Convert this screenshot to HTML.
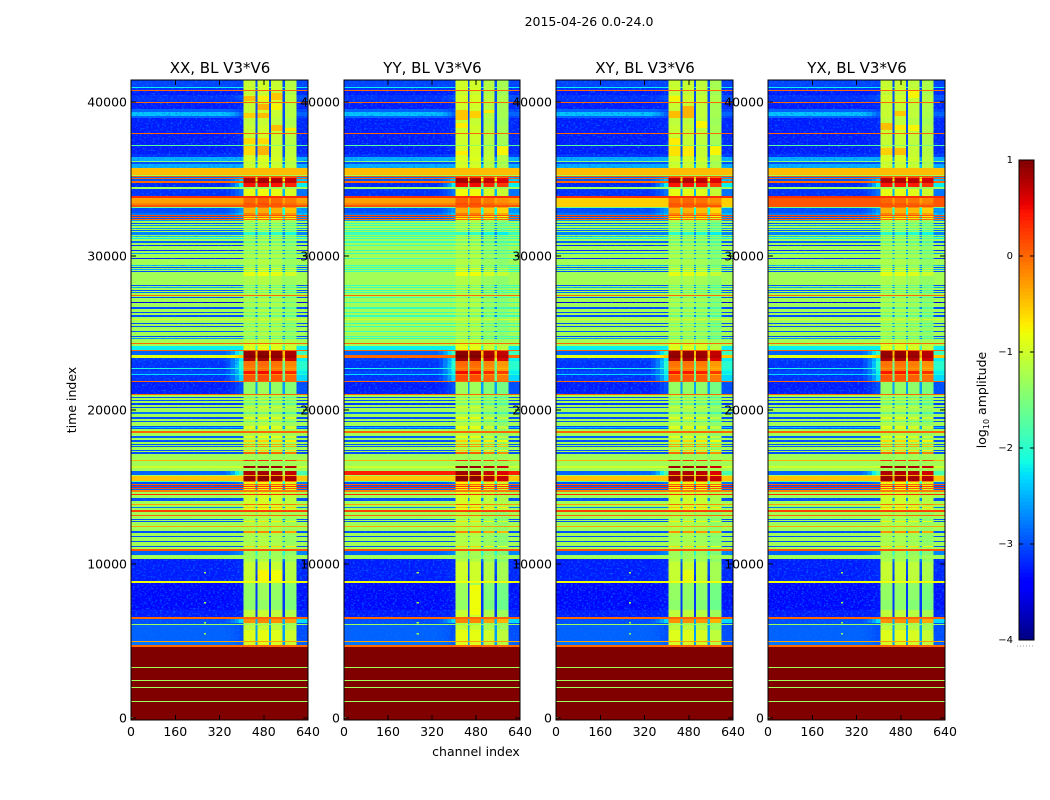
<!DOCTYPE html>
<html lang="en">
<head>
<meta charset="utf-8">
<title>2015-04-26 0.0-24.0 waterfall</title>
<style>
html,body{margin:0;padding:0;background:#fff;width:1050px;height:800px;overflow:hidden}
svg{display:block}
text{font-family:"DejaVu Sans","Liberation Sans",sans-serif;fill:#000}
</style>
</head>
<body>
<svg id="figure" xmlns="http://www.w3.org/2000/svg" width="1050" height="800" viewBox="0 0 1050 800">
  <defs>
    <filter id="speckle-a" filterUnits="userSpaceOnUse" x="0" y="0" width="1050" height="800" color-interpolation-filters="sRGB">
      <feTurbulence type="fractalNoise" baseFrequency="0.45 0.6" numOctaves="2" seed="3" result="n"/>
      <feColorMatrix in="n" type="matrix" values="0 0 0 0 0  0 0 0 0 .45  0 0 0 0 1  2.6 0 0 0 -1.3" result="c"/>
      <feComposite in="c" in2="SourceAlpha" operator="in"/>
    </filter>
  </defs>
  <text x="589" y="26" font-size="12.5" text-anchor="middle">2015-04-26 0.0-24.0</text>
  <text x="0" y="0" font-size="12.5" text-anchor="middle" transform="translate(76,400) rotate(-90)">time index</text>
  <text x="476" y="756" font-size="12.5" text-anchor="middle">channel index</text>
  <text x="0" y="0" font-size="12.5" text-anchor="middle" transform="translate(986,400) rotate(-90)">log<tspan font-size="8" dy="3">10</tspan><tspan dy="-3"> amplitude</tspan></text>
  <g id="panels"></g>
  <g id="colorbar"></g>
</svg>
<script>
// ---- chart data ----
const panelTitles = ['XX, BL V3*V6', 'YY, BL V3*V6', 'XY, BL V3*V6', 'YX, BL V3*V6'];
const xTicks = [0, 160, 320, 480, 640];
const yTicks = [0, 10000, 20000, 30000, 40000];
const colorbarTicks = [1, 0, -1, -2, -3, -4];
const colorbarLabels = ['1', '0', '\u22121', '\u22122', '\u22123', '\u22124'];
// channel boundaries of the spectral zones
const channelEdges = [0, 344, 360, 376, 391, 406, 450, 457, 499, 507, 548, 557, 599, 640];
// fraction of the shoulder level reached across the roll-off zone
const shoulderBlend = [.12, .35, .65, 1];
// upper time index of each time band
const bandStart = [
41432,40977,40912,40782,40717,40458,40133,40003,39938,39548,
39354,39094,38964,38509,38185,37990,37925,37535,37211,37146,
36626,36431,36172,36107,35977,35717,35262,35197,35133,35068,
35003,34873,34743,34483,34353,33899,33769,33444,33314,33184,
33119,32795,32665,32600,32535,32470,32405,32340,32275,32145,
32080,32015,31950,31821,31756,31691,31626,31561,31366,31301,
31236,31171,31106,30976,30847,30717,30652,30392,30327,30197,
30132,29872,29807,29418,29353,29288,29223,29158,29093,29028,
28963,28703,28119,28054,27989,27924,27794,27729,27664,27600,
27470,27405,27340,27275,27015,26950,26690,26560,26366,26301,
26171,26041,25911,25846,25651,25586,25456,25392,25132,25067,
24807,24742,24677,24612,24353,24288,24158,23898,23833,23573,
23378,23184,22859,22729,22664,22534,22339,22274,21885,21820,
21041,20976,20846,20781,20651,20586,20456,20326,20196,20131,
19872,19742,19547,19417,19287,19222,18962,18898,18833,18768,
18638,18508,18313,18183,18053,17923,17794,17729,17664,17599,
17404,17339,17274,17144,16755,16690,16365,16235,16040,15780,
15715,15391,15326,15196,15131,15066,15001,14936,14871,14806,
14676,14547,14482,14287,14092,13897,13832,13702,13637,13508,
13378,13183,13118,12923,12858,12793,12728,12468,12404,12144,
12014,11819,11754,11494,11429,11170,11105,10975,10845,10585,
10325,10131,9286,8897,8767,7663,7014,6559,6429,6169,
6104,6039,5715,5000,4935,4741,4611,3312,3247,2468,
2403,2013,1948,1104,1039];
// log10 amplitude in the low-channel zone
const outerAmp = [
-3.05,-2.2,-3.15,0,-3.25,-3.15,-3.15,0,-3.25,-2.9,
-2.4,-2.9,-3.25,-3.25,-3.25,0,-3.25,-3.25,-1.7,-3.25,
-3.15,-2.5,-1.4,-3,-2.5,-.45,-1.27,.1,-2.8,0,
-3,0,-3.2,-1.3,-3.15,.3,-.3,-.15,.1,-1.6,
-3,-2.8,.1,-3,0,-3,0,-2.6,-1.27,-3,
-1.27,-2.6,-1.27,-2.6,-1.27,-2.9,-1.27,-2.7,-1.27,-2.4,
-1.27,-2.2,-1.27,-2.9,-1.27,-3.2,-1.27,-3.2,-1.27,-2.6,
-1.27,-3.2,-1.27,-2.4,-1.27,-3,-1.27,-2.5,-1.27,-3,
-1.27,-1.27,-3,-1.27,-2.5,-1.27,-3,-1.27,-2.8,-1.27,
0,-1.27,-3,-1.27,-3.6,-1.27,-3,-1.27,-3,-1.27,
-3,-1.27,-1,-1.27,-3,-1.27,-3,-1.27,-3,-1.27,
-3,-1.27,-2.6,-1.27,0,-1.27,-2.2,0,-2.9,-.9,
-3.1,-3.15,-3.15,-2.1,-3.15,-3.05,-2.3,-3.15,0,-3.25,
0,-1.27,-3,-1.27,-3,-1.27,-3.1,-1.27,-3,-1.27,
-2.8,-1.27,-3,-1.27,-3,-1.27,-3,-2.4,-3,-1.27,
0,-1.27,-2.9,-1.27,-3,-1.27,-3,-1.27,-3,-1.27,
-3,-1.27,-3,-1.27,-.4,-1.27,-1,-1.27,-2.9,-1.27,
-.5,-1.8,-3,0,-3,.3,-2.9,.1,-2.9,-.1,
-1.27,.3,-1.27,-3,-1.27,-.3,-1.27,-2.8,-1.27,.2,
-1.27,0,-1.27,-3,-1.27,-3,-1.27,-.3,-1.27,-3,
-1.27,-3,-1.27,-3,-1.27,-3,-1.27,.1,-2.9,-1.27,
-3.25,-3.25,-3.25,-.8,-3.35,-3.35,-3.25,0,-3,-3,
-1.3,-2.9,-2.9,-.3,-2.8,0,1,-1.27,1,-1.27,
1,-1.27,1,-1.27,1];
// log10 amplitude on the shoulder and the high-channel edge
const shoulderAmp = [
-3.05,-2.2,-3.15,0,-3.2,-3,-3.1,0,-3.2,-3.05,
-2.9,-3.05,-3.2,-3.2,-3.2,0,-3.2,-3.2,-1.7,-3.2,
-3.1,-2.5,-1.4,-3,-2.5,-.45,-1.27,.1,-2.6,0,
-2.4,0,-2.2,-1.3,-2.8,.3,-.3,-.15,.1,-1.6,
-2.6,-2.4,.1,-2.7,0,-2.7,0,-2.6,-1.27,-3,
-1.27,-2.6,-1.27,-2.6,-1.27,-2.9,-1.27,-2.7,-1.27,-2.4,
-1.27,-2.2,-1.27,-2.9,-1.27,-3.2,-1.27,-3.2,-1.27,-2.6,
-1.27,-3.2,-1.27,-2.4,-1.27,-3,-1.27,-2.5,-1.27,-3,
-1.27,-1.27,-3,-1.27,-2.5,-1.27,-3,-1.27,-2.8,-1.27,
0,-1.27,-3,-1.27,-3.6,-1.27,-3,-1.27,-3,-1.27,
-3,-1.27,-1,-1.27,-3,-1.27,-3,-1.27,-3,-1.27,
-3,-1.27,-2.6,-1.27,0,-1.27,-2.2,0,-1.9,-.5,
-2.2,-2,-2,-2,-2.1,-2.2,-2,-2.3,0,-3,
0,-1.27,-3,-1.27,-3,-1.27,-3.1,-1.27,-3,-1.27,
-2.8,-1.27,-3,-1.27,-3,-1.27,-3,-2.4,-3,-1.27,
0,-1.27,-2.9,-1.27,-3,-1.27,-3,-1.27,-3,-1.27,
-3,-1.27,-3,-1.27,-.4,-1.27,-1,-1.27,-1.8,-1.27,
-.5,-1.3,-2.8,0,-3,.3,-2.9,.1,-2.9,-.1,
-1.27,.3,-1.27,-3,-1.27,-.3,-1.27,-2.8,-1.27,.2,
-1.27,0,-1.27,-3,-1.27,-3,-1.27,-.3,-1.27,-3,
-1.27,-3,-1.27,-3,-1.27,-3,-1.27,.1,-2.7,-1.27,
-3.2,-3.2,-3.2,-.8,-3.3,-3.3,-3.2,0,-2.3,-3,
-1.3,-3,-3,-.3,-2.9,0,1,-1.27,1,-1.27,
1,-1.27,1,-1.27,1];
// log10 amplitude in the four bright sub-band blocks
const blockAmp = [
-1.05,-1.05,-1,0,-1.1,-1,-1,0,-1.05,-1.05,
-1.05,-1.05,-1.1,-1.05,-1.05,0,-1.05,-1.05,-1.4,-1,
-1,-.95,-1,-1.1,-1,-.45,-1.27,.1,.2,.75,
.8,.8,.45,-1.3,-.85,.3,0,.1,.1,-.1,
-.4,-.15,.1,-.6,0,-.8,0,-1.2,-1.2,-1.6,
-1.2,-1.6,-1.2,-1.6,-1.2,-1.6,-1.2,-2,-1.2,-1.6,
-1.2,-1.6,-1.2,-1.6,-1.2,-1.6,-1.2,-1.6,-1.2,-1.6,
-1.2,-1.6,-1.2,-1.5,-1.2,-1.4,-.9,-1.4,-.9,-1.4,
-.85,-1.2,-1.6,-1.2,-1.6,-1.2,-1.6,-1.2,-1.6,-1.2,
0,-1.2,-1.6,-1.2,-1.6,-1.2,-1.6,-1.2,-1.6,-1.2,
-1.6,-1.2,-1,-1.2,-1.6,-1.2,-1.6,-1.2,-1.6,-1.2,
-1.6,-1.2,-1.6,-1.1,0,-.95,-.9,0,.9,.95,
.8,-.05,-.1,-.2,-.1,.45,-.2,.1,0,-1.35,
0,-1.2,-1.6,-1.2,-1.6,-1.2,-1.6,-1.2,-1,-1.2,
-1.6,-1.2,-.9,-1.2,-1.6,-1.2,-.9,-.9,-.9,-1.2,
0,-1.2,-.9,-1.2,-.6,-1.2,-.3,-1.2,-.3,-1.2,
-.6,-1.2,0,-1.27,.3,-1.27,.85,-1.27,.8,-.3,
.9,0,-.8,0,-.6,.3,-.8,.1,-.8,-.1,
-1,.3,-1,-1,-1,0,-1,-.5,-.9,.2,
-1.2,0,-1.2,-1.3,-1.2,-.7,-1.2,-.3,-1.2,-.2,
-1.2,-1.3,-1.2,-1.3,-1.2,-.6,-1.2,.1,-1.3,-1.27,
-1.2,-1.05,-1.05,-.8,-1.35,-1.4,-1.1,0,-.2,-1.2,
-1.3,-1.1,-.9,-.3,-.95,0,1,-1.27,1,-1.27,
1,-1.27,1,-1.27,1];
// log10 amplitude in the narrow gaps between blocks
const gapAmp = [
-3,-2,-3,0,-3,-3,-3,0,-3,-3,
-3,-3,-3,-3,-3,0,-3,-3,-1.7,-3,
-3,-2.6,-1.5,-2.9,-2.4,-.45,-1.27,.1,-1,-.2,
-.8,0,-1.6,-1.4,-2.5,.3,-.3,-.15,.1,-1.5,
-2.1,-2,.1,-2.2,0,-2.2,0,-2.4,-1.4,-2.7,
-1.4,-2.7,-1.4,-2.7,-1.4,-2.7,-1.4,-2.7,-1.4,-2.7,
-1.4,-2.7,-1.4,-2.7,-1.4,-2.7,-1.4,-2.7,-1.4,-2.7,
-1.4,-2.7,-1.4,-2.7,-1.4,-2.7,-1.4,-2.7,-1.4,-2.7,
-1.4,-1.4,-2.7,-1.4,-2.7,-1.4,-2.7,-1.4,-2.7,-1.4,
0,-1.4,-2.7,-1.4,-2.7,-1.4,-2.7,-1.4,-2.7,-1.4,
-2.7,-1.4,-1.4,-1.4,-2.7,-1.4,-2.7,-1.4,-2.7,-1.4,
-2.7,-1.4,-2.7,-1.4,0,-1.4,-1.9,0,-.5,-.3,
-1,-1.6,-1.6,-1.6,-1.6,-1.6,-1.6,-1.6,0,-2.6,
0,-1.4,-2.7,-1.4,-2.7,-1.4,-2.7,-1.4,-2.7,-1.4,
-2.7,-1.4,-2.7,-1.4,-2.7,-1.4,-2.7,-2.4,-2.7,-1.4,
0,-1.4,-2.7,-1.4,-2.7,-1.4,-2.7,-1.4,-2.7,-1.4,
-2.7,-1.4,-2.7,-1.4,-1,-1.4,-1,-1.4,-1.2,-1,
-.4,-1.8,-2,0,-2.7,.3,-2.7,.1,-2.7,-.1,
-1.4,.3,-1.4,-2.7,-1.4,-.3,-1.4,-2.7,-1.4,.2,
-1.4,0,-1.4,-2.7,-1.4,-2.7,-1.4,-.3,-1.4,-2.7,
-1.4,-2.7,-1.4,-2.7,-1.4,-2.7,-1.4,.1,-2,-1.6,
-2.8,-3,-3.1,-.8,-3.1,-3.1,-3.1,0,-2.5,-2.6,
-1.3,-2.6,-2.6,-.3,-2.6,0,1,-1.27,1,-1.27,
1,-1.27,1,-1.27,1];
// per-polarisation level offset of each block
const blockTrimXX = [0, .05, 0, -.1];
const blockTrimYY = [.05, .05, -.1, -.2];
const blockTrimXY = [0, 0, -.05, -.2];
const blockTrimYX = [0, 0, -.05, -.15];
// per-polarisation differences in the off-band rows
const adjustPol = [1, 1, 1, 2, 3];
const adjustFrom = [32300, 23573, 16040, 33769, 33769];
const adjustTo = [24300, 23378, 15780, 33190, 33190];
const adjustMin = [-1.9, 0, .4, -4, .1];
const adjustMax = [1, 1, 1, -.55, 1];
// brighter patches inside individual blocks
const patchPol = [0,0,0,0,0,0,0,0,0,0,0,0,0,0,0, 1,1,1,1,1,1,1, 2,2,2,2,2,2,2,2,2, 3,3,3,3,3,3,3];
const patchBlock = [0,1,2,1,2,0,1,2,3,0,1,0,1,1,2, 0,1,2,0,0,3,1, 0,1,0,2,3,0,0,1,1, 0,0,1,1,1,2,2];
const patchFrom = [40393,40393,40588,39873,39873,39289,39289,38509,38315,37665,37665,37146,37146,9611,9611, 39484,39419,39484,38639,36821,37146,8637, 39419,39743,40393,38769,37146,37665,37146,37146,9611, 38639,37016,38509,37016,39419,40717,38509];
const patchTo = [40068,40133,40133,39484,39484,38964,38964,38120,38120,37276,37276,36561,36561,8897,8897, 38835,38964,39289,38315,36561,36561,6688, 38964,38964,40068,38315,36561,37211,36496,36496,8897, 38185,36561,38185,36561,39094,40263,38120];
const patchAmp = [-.45,-.7,-.5,-.4,-.75,-.55,-.45,-.45,-.7,-.6,-.6,-.6,-.4,-.75,-.8, -.5,-.55,-.7,-.7,-.7,-.75,-.8, -.45,-.4,-.75,-.75,-.75,-.7,-.65,-.7,-.85, -.45,-.55,-.7,-.45,-.5,-.75,-.75];
// isolated bright samples
const spotChannel = [0, 264, 264, 264, 264];
const spotTime = [80, 9481, 7533, 6234, 5520];
const spotAmp = [-1.27, -1.27, -1.27, -1.27, -1.27];

// ---- scales ----
const panelLefts = [131, 344, 556, 768];
const panelRights = [308, 520, 733, 945];
const plotTop = 80, plotBottom = 720;
const timeMin = -130, timeMax = 41430;
function yOf(t) { return plotBottom - (t - timeMin) / (timeMax - timeMin) * (plotBottom - plotTop); }
function xOf(p, ch) { return panelLefts[p] + ch / 640 * (panelRights[p] - panelLefts[p]); }
const ampMin = -4, ampMax = 1;
function ramp(t, pts) {
  for (let i = 1; i < pts.length; i++) {
    if (t <= pts[i][0]) {
      const a = pts[i - 1], b = pts[i];
      return a[1] + (b[1] - a[1]) * (t - a[0]) / (b[0] - a[0]);
    }
  }
  return pts[pts.length - 1][1];
}
function jet(v) {
  const t = Math.max(0, Math.min(1, (v - ampMin) / (ampMax - ampMin)));
  const r = ramp(t, [[0, 0], [.35, 0], [.66, 1], [.89, 1], [1, .5]]);
  const g = ramp(t, [[0, 0], [.125, 0], [.375, 1], [.64, 1], [.91, 0], [1, 0]]);
  const b = ramp(t, [[0, .5], [.11, 1], [.34, 1], [.65, 0], [1, 0]]);
  return 'rgb(' + Math.round(r * 255) + ',' + Math.round(g * 255) + ',' + Math.round(b * 255) + ')';
}
const NS = 'http://www.w3.org/2000/svg';
function mk(tag, parent) {
  const el = document.createElementNS(NS, tag);
  parent.appendChild(el);
  return el;
}
function rectAttrs(el, x, y, w, h, fill) {
  el.setAttribute('x', x);
  el.setAttribute('y', y);
  el.setAttribute('width', w);
  el.setAttribute('height', h);
  el.setAttribute('fill', fill);
  el.setAttribute('shape-rendering', 'crispEdges');
}
function lineAttrs(el, x1, y1, x2, y2) {
  el.setAttribute('x1', x1);
  el.setAttribute('y1', y1);
  el.setAttribute('x2', x2);
  el.setAttribute('y2', y2);
  el.setAttribute('stroke', '#000');
  el.setAttribute('stroke-width', '1');
  el.setAttribute('shape-rendering', 'crispEdges');
}

const panelsRoot = document.getElementById('panels');
const trims = [blockTrimXX, blockTrimYY, blockTrimXY, blockTrimYX];
const lastColumn = channelEdges.length - 2;

function adjusted(p, t, v) {
  for (let k = 0; k < adjustPol.length; k++) {
    if (adjustPol[k] === p && t <= adjustFrom[k] && t > adjustTo[k]) {
      v = Math.min(adjustMax[k], Math.max(adjustMin[k], v));
    }
  }
  return v;
}

function isQuietColumn(col) { return col <= shoulderBlend.length || col === lastColumn; }

function cellValue(p, i, col) {
  const t = bandStart[i];
  const outer = adjusted(p, t, outerAmp[i]);
  const shoulder = adjusted(p, t, shoulderAmp[i]);
  if (col === 0) return outer;
  if (col === lastColumn) return shoulder;
  if (col <= shoulderBlend.length) return outer + (shoulder - outer) * shoulderBlend[col - 1];
  const inner = col - shoulderBlend.length - 1;
  if (inner % 2 === 0) {
    const b = blockAmp[i];
    return b === outerAmp[i] ? b : b + trims[p][inner / 2];
  }
  return gapAmp[i];
}

panelTitles.forEach(function (title, p) {
  const g = mk('g', panelsRoot);
  
  

  const cells = mk('g', g);
  
  
  const speck = mk('g', g);
  
  
  speck.setAttribute('filter', 'url(#speckle-a)');

  bandStart.forEach(function (t, i) {
    const lower = i + 1 < bandStart.length ? bandStart[i + 1] : timeMin;
    const y0 = Math.round(yOf(t));
    const y1 = Math.round(yOf(lower));
    for (let col = 0; col < channelEdges.length - 1; col++) {
      const x0 = xOf(p, channelEdges[col]);
      const x1 = xOf(p, channelEdges[col + 1]);
      const v = cellValue(p, i, col);
      const r = mk('rect', cells);
      
      
      rectAttrs(r, x0, y0, x1 - x0, y1 - y0, jet(v));
      if (v < -2.35 && isQuietColumn(col)) {
        const s = mk('rect', speck);
        
        
        rectAttrs(s, x0, y0, x1 - x0, y1 - y0, '#000');
      }
    }
  });

  patchPol.forEach(function (pol, k) {
    if (pol !== p) return;
    const blockCol = shoulderBlend.length + 1 + patchBlock[k] * 2;
    const x0 = xOf(p, channelEdges[blockCol]);
    const x1 = xOf(p, channelEdges[blockCol + 1]);
    const y0 = Math.round(yOf(patchFrom[k]));
    const y1 = Math.round(yOf(patchTo[k]));
    const r = mk('rect', cells);
    
    
    rectAttrs(r, x0, y0, x1 - x0, y1 - y0, jet(patchAmp[k]));
  });

  spotChannel.forEach(function (ch, k) {
    const s = mk('rect', g);
    
    
    rectAttrs(s, xOf(p, ch), yOf(spotTime[k]), xOf(p, 8) - xOf(p, 0), yOf(0) - yOf(100), jet(spotAmp[k]));
  });

  const frame = mk('rect', g);
  
  
  rectAttrs(frame, panelLefts[p], plotTop, panelRights[p] - panelLefts[p], plotBottom - plotTop, 'none');
  frame.setAttribute('stroke', '#000');
  frame.setAttribute('stroke-width', '1');

  xTicks.forEach(function (tick) {
    const x = xOf(p, tick);
    const a = mk('line', g);
    
    
    lineAttrs(a, x, plotBottom, x, plotBottom - 5);
    const b = mk('line', g);
    
    
    lineAttrs(b, x, plotTop, x, plotTop + 5);
    const lbl = mk('text', g);
    
    
    lbl.setAttribute('x', x);
    lbl.setAttribute('y', 736);
    lbl.setAttribute('font-size', '12.5');
    lbl.setAttribute('text-anchor', 'middle');
    lbl.textContent = String(tick);
  });

  yTicks.forEach(function (tick) {
    const y = yOf(tick);
    const a = mk('line', g);
    
    
    lineAttrs(a, panelLefts[p], y, panelLefts[p] + 5, y);
    const b = mk('line', g);
    
    
    lineAttrs(b, panelRights[p], y, panelRights[p] - 5, y);
    const lbl = mk('text', g);
    
    
    lbl.setAttribute('x', panelLefts[p] - 4);
    lbl.setAttribute('y', y + 4.5);
    lbl.setAttribute('font-size', '12.5');
    lbl.setAttribute('text-anchor', 'end');
    lbl.textContent = String(tick);
  });

  const ttl = mk('text', g);
  
  
  ttl.setAttribute('x', (panelLefts[p] + panelRights[p]) / 2 + 0.5);
  ttl.setAttribute('y', 73);
  ttl.setAttribute('font-size', '15');
  ttl.setAttribute('text-anchor', 'middle');
  ttl.textContent = title;
});

// ---- colorbar ----
const cbRoot = document.getElementById('colorbar');
const cbLeft = 1019, cbRight = 1034, cbTop = 160, cbBottom = 640;
function cbY(v) { return cbBottom - (v - ampMin) / (ampMax - ampMin) * (cbBottom - cbTop); }
for (let level = 0; level < 128; level++) {
  const v0 = ampMin + level * (ampMax - ampMin) / 128;
  const v1 = ampMin + (level + 1) * (ampMax - ampMin) / 128;
  const r = mk('rect', cbRoot);
  
  
  rectAttrs(r, cbLeft, cbY(v1), cbRight - cbLeft, cbY(v0) - cbY(v1) + .5, jet((v0 + v1) / 2));
}
colorbarTicks.forEach(function (tick, k) {
  const y = cbY(tick);
  const a = mk('line', cbRoot);
  
  
  lineAttrs(a, cbLeft, y, cbLeft + 4, y);
  const b = mk('line', cbRoot);
  
  
  lineAttrs(b, cbRight, y, cbRight - 4, y);
  const lbl = mk('text', cbRoot);
  
  
  lbl.setAttribute('x', cbLeft - 6);
  lbl.setAttribute('y', y + 3);
  lbl.setAttribute('font-size', '10');
  lbl.setAttribute('text-anchor', 'end');
  lbl.textContent = colorbarLabels[k];
});
const cbFrame = mk('rect', cbRoot);


rectAttrs(cbFrame, cbLeft, cbTop, cbRight - cbLeft, cbBottom - cbTop, 'none');
cbFrame.setAttribute('stroke', '#000');
cbFrame.setAttribute('stroke-width', '1');
const cbDots = mk('line', cbRoot);


lineAttrs(cbDots, 1017, 646, 1035, 646);
cbDots.setAttribute('stroke', '#999');
cbDots.setAttribute('stroke-dasharray', '1 2');
</script>
</body>
</html>
